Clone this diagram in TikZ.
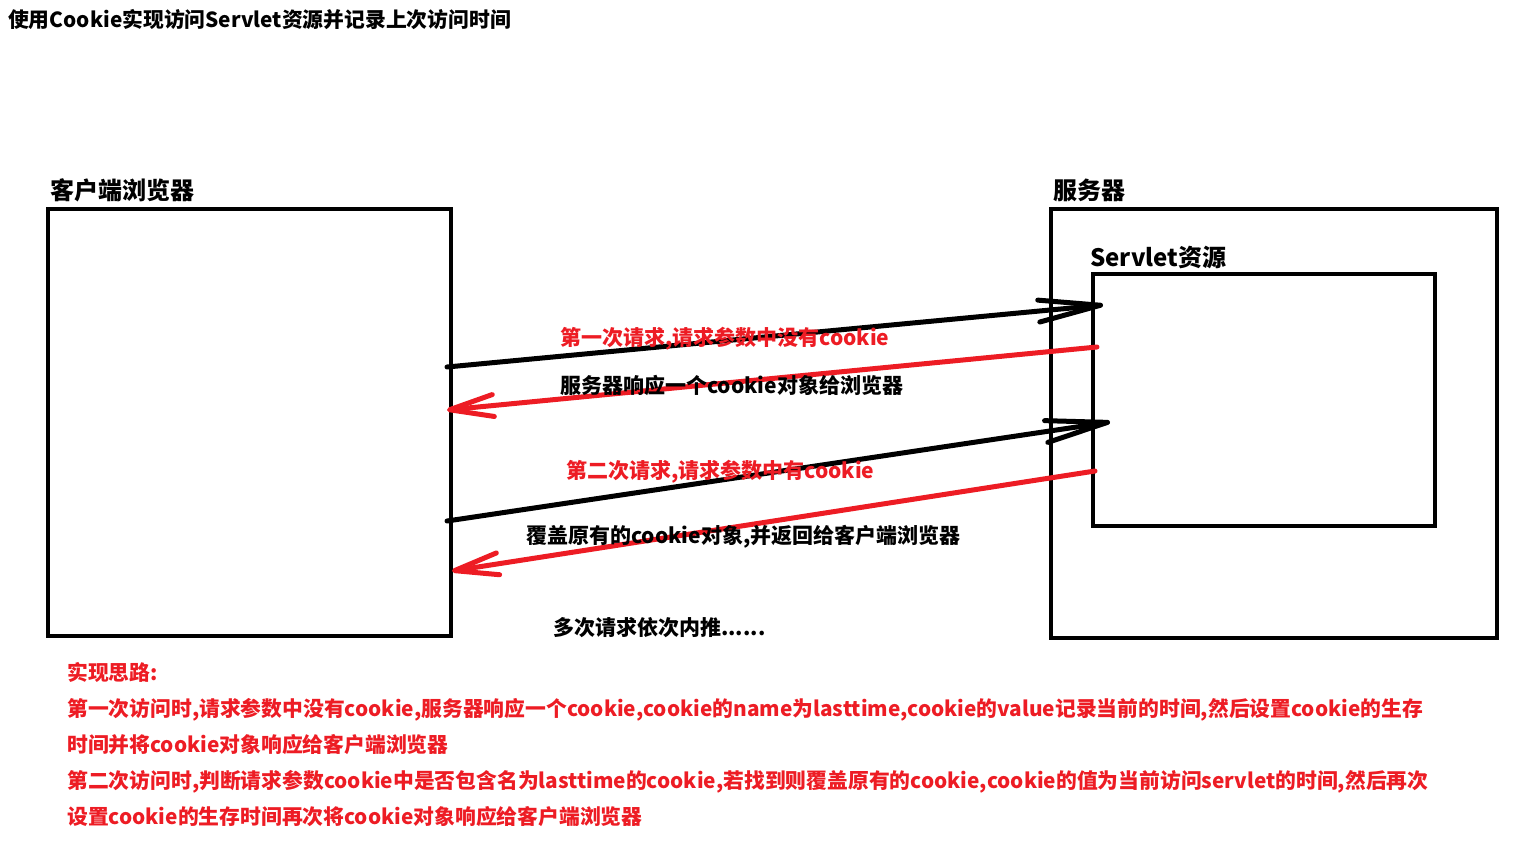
\documentclass[tikz,border=0pt]{standalone}
\usepackage{fontspec}
\setmainfont{Noto Sans CJK SC}
\usetikzlibrary{arrows.meta,positioning}
\definecolor{paintred}{HTML}{ED1C24}
\tikzset{
  frame/.style={draw=black, line width=4.6pt, inner sep=0pt},
  titletext/.style={anchor=west, inner sep=0pt, font=\fontsize{20.8}{25}\selectfont\bfseries},
  boxlabel/.style={anchor=west, inner sep=0pt, font=\fontsize{24}{28}\selectfont\bfseries},
  msg/.style={anchor=west, inner sep=0pt, font=\fontsize{21}{25}\selectfont\bfseries},
  reqarrow/.style={draw=black, line width=5pt, line cap=round, -{Straight Barb[length=62pt,width=22pt,round]}},
  resparrow/.style={draw=paintred, line width=5pt, line cap=round, -{Straight Barb[length=44pt,width=22pt,round]}}
}

\begin{document}
\begin{tikzpicture}[x=1pt,y=-1pt]
\useasboundingbox (0,0) rectangle (1532,844);
\node[titletext] (title) at (8,20) {使用Cookie实现访问Servlet资源并记录上次访问时间};

% client and server
\node[frame, minimum width=403pt, minimum height=427pt] (client) at (249.5,422.5) {};
\node[frame, minimum width=446pt, minimum height=429pt] (server) at (1274,423.5) {};
\node[frame, minimum width=342pt, minimum height=252pt] (servlet) at (1264,400) {};
\node[boxlabel] (clientlbl) at (50,190) {客户端浏览器};
\node[boxlabel] (serverlbl) at (1053,190) {服务器};
\node[boxlabel] (servletlbl) at (1090,257) {Servlet资源};

% arrow ends
\coordinate (req1s) at (447,367);
\coordinate (req1e) at (1103,305);
\coordinate (resp1s) at (1097,347);
\coordinate (resp1e) at (447,410);
\coordinate (req2s) at (447,521);
\coordinate (req2e) at (1110,422);
\coordinate (resp2s) at (1095,471);
\coordinate (resp2e) at (452,571);

\draw[reqarrow] (req1s) -- (req1e);
\draw[resparrow] (resp1s) -- (resp1e);
\draw[reqarrow] (req2s) -- (req2e);
\draw[resparrow] (resp2s) -- (resp2e);

\node[msg, text=paintred] (req1) at (560,339) {第一次请求,请求参数中没有cookie};
\node[msg] (resp1) at (560,385) {服务器响应一个cookie对象给浏览器};
\node[msg, text=paintred] (req2) at (566,472) {第二次请求,请求参数中有cookie};
\node[msg] (resp2) at (526,537) {覆盖原有的cookie对象,并返回给客户端浏览器};
\node[msg] (more) at (553,628) {多次请求依次内推......};

% idea
\node[msg, text=paintred, align=left, font=\fontsize{20.8}{36}\selectfont\bfseries] (idea) at (67,745)
  {实现思路:\\
   第一次访问时,请求参数中没有cookie,服务器响应一个cookie,cookie的name为lasttime,cookie的value记录当前的时间,然后设置cookie的生存\\
   时间并将cookie对象响应给客户端浏览器\\
   第二次访问时,判断请求参数cookie中是否包含名为lasttime的cookie,若找到则覆盖原有的cookie,cookie的值为当前访问servlet的时间,然后再次\\
   设置cookie的生存时间再次将cookie对象响应给客户端浏览器};
\end{tikzpicture}
\end{document}
